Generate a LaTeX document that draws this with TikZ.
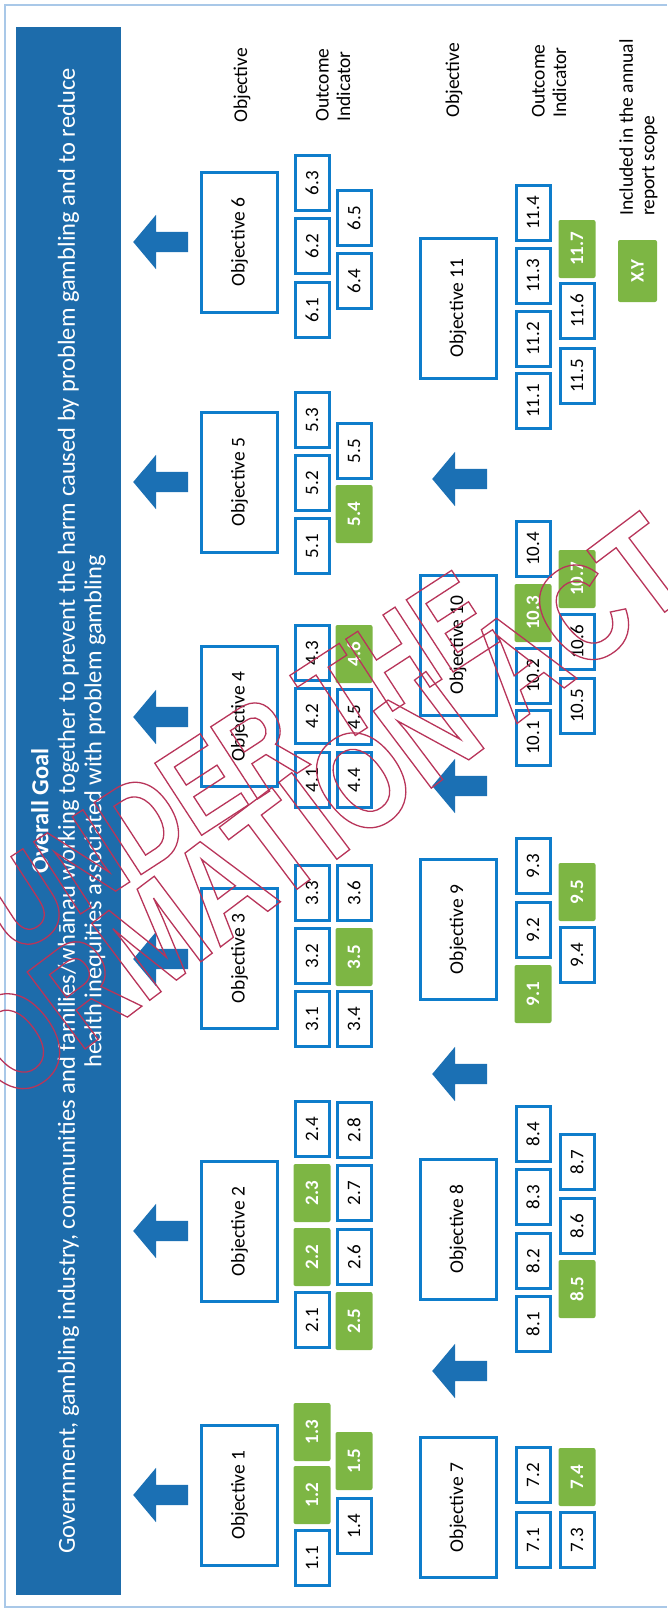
\documentclass[tikz,border=0pt]{standalone}
\usepackage{fontspec}
\setmainfont{Carlito}
\newfontfamily\stampfont[FakeStretch=0.8]{Liberation Sans}
\usepackage{tikz}
\usetikzlibrary{shapes.arrows}
\usepackage{xcolor}
\definecolor{goalblue}{HTML}{1D6CAB}
\definecolor{arrowblue}{HTML}{1B70B4}
\definecolor{boxblue}{HTML}{0E7DCB}
\definecolor{scopegreen}{HTML}{7DB644}
\definecolor{framecol}{HTML}{A9C8E8}
\definecolor{stampred}{HTML}{B8355A}
% outlined letters of the release stamp
\newcommand{\stamp}[1]{\special{pdf:literal direct 1 Tr 1.3 w}#1\special{pdf:literal direct 0 Tr}}

\tikzset{
  goal/.style={rotate=90, fill=goalblue, text=white, minimum width=1568pt, minimum height=105pt,
    inner sep=0pt, align=center, font=\fontsize{24.5}{26.5}\selectfont},
  objbox/.style={rotate=90, draw=boxblue, line width=3pt, fill=white, minimum width=140pt,
    minimum height=76pt, inner sep=0pt, font=\fontsize{19.5}{22}\selectfont},
  ind/.style={rotate=90, draw=boxblue, line width=3pt, fill=white, minimum width=55pt,
    minimum height=34pt, inner sep=0pt, font=\fontsize{19}{22}\selectfont},
  hit/.style={rotate=90, fill=scopegreen, rounded corners=2pt, text=white, minimum width=58pt,
    minimum height=37pt, inner sep=0pt, font=\fontsize{19}{22}\selectfont\bfseries},
  uparrow/.style={single arrow, fill=arrowblue, shape border rotate=180, minimum height=55pt,
    inner xsep=0pt, inner ysep=10pt, single arrow head extend=17pt, single arrow tip angle=100},
  legend/.style={rotate=90, anchor=west, align=left, inner sep=0pt,
    font=\fontsize{19.5}{21.5}\selectfont},
  frame/.style={draw=framecol, line width=1.5pt},
  wmark/.style={text=stampred, inner sep=0pt, anchor=base west, font=\stampfont\bfseries}
}

\begin{document}
\begin{tikzpicture}[x=1pt,y=-1pt]
  \useasboundingbox (0,0) rectangle (667,1612);
  \draw[frame] (667,5) -- (5,5) -- (5,1607) -- (667,1607);

  % overall goal
  \node[goal] (goal) at (68.5,811) {\textbf{Overall Goal}\\
    Government, gambling industry, communities and families/whānau working together to prevent the harm caused by problem gambling and to reduce\\
    health inequities associated with problem gambling};

  % objectives, two rows
  \foreach \n/\yy in {1/1495,2/1231.5,3/958.5,4/716.5,5/482,6/242}
    \node[objbox] (obj\n) at (239.5,\yy) {Objective \n};
  \foreach \n/\yy in {7/1507.5,8/1229,9/929.5,10/645,11/308}
    \node[objbox] (obj\n) at (458,\yy) {Objective \n};

  % arrows
  \foreach \yy [count=\k] in {1495,1231,959,717,482,242}
    \node[uparrow] (up\k) at (165,\yy) {};
  \foreach \yy [count=\k] in {1371,1074,786,479}
    \node[uparrow] (mid\k) at (464,\yy) {};

  % outcome indicators
  \foreach \lab/\xx/\yy [count=\k] in {1.1/312/1558, 1.4/354/1526,
      2.1/312/1320, 2.4/312/1129, 2.6/354/1257, 2.7/354/1193, 2.8/354/1130,
      3.1/312/1019, 3.2/312/956, 3.3/312/893, 3.4/354/1019, 3.6/354/893,
      4.1/312/780, 4.2/312/716, 4.3/312/653, 4.4/354/780, 4.5/354/717,
      5.1/312/546, 5.2/312/483, 5.3/312/420, 5.5/354/451,
      6.1/312/310, 6.2/312/246, 6.3/312/183, 6.4/354/281, 6.5/354/218,
      7.1/533/1540, 7.2/533/1475, 7.3/577/1540,
      8.1/533/1324, 8.2/533/1261, 8.3/533/1197, 8.4/533/1134, 8.6/577/1226, 8.7/577/1162,
      9.2/533/930, 9.3/533/866, 9.4/577/955,
      10.1/533/738, 10.2/533/676, 10.4/533/549, 10.5/577/706, 10.6/577/642,
      11.1/533/401, 11.2/533/339, 11.3/533/276, 11.4/533/213, 11.5/577/376, 11.6/577/311}
    \node[ind] (ind\k) at (\xx,\yy) {\lab};

  % indicators in the annual report scope
  \foreach \lab/\xx/\yy [count=\k] in {1.2/312/1495, 1.3/312/1432, 1.5/354/1461,
      2.2/312/1257, 2.3/312/1193, 2.5/354/1321,
      3.5/354/957, 4.6/354/654, 5.4/354/514,
      7.4/577/1477, 8.5/577/1289, 9.1/533/994, 9.5/577/892,
      10.3/533/613, 10.7/577/579, 11.7/577/249}
    \node[hit] (hit\k) at (\xx,\yy) {\lab};

  % legend
  \node[legend] (keyobjA) at (242,123) {Objective};
  \node[legend] (keyindA) at (333,122) {Outcome\\Indicator};
  \node[legend] (keyobjB) at (454,118) {Objective};
  \node[legend] (keyindB) at (549,118) {Outcome\\Indicator};
  \node[hit, minimum width=62pt, minimum height=39pt] (keyhit) at (637.5,271) {X.Y};
  \node[legend] (keyscope) at (638.5,216) {Included in the annual\\report scope};

  % release stamp
  \node[wmark, rotate=33, font=\stampfont\bfseries\fontsize{125}{125}\selectfont]
    (stampA) at (14.2,957) {\stamp{UNDER THE}};
  \node[wmark, rotate=37, font=\stampfont\bfseries\fontsize{140}{140}\selectfont]
    (stampB) at (9.4,1106) {\stamp{ORMATION ACT}};
\end{tikzpicture}
\end{document}
